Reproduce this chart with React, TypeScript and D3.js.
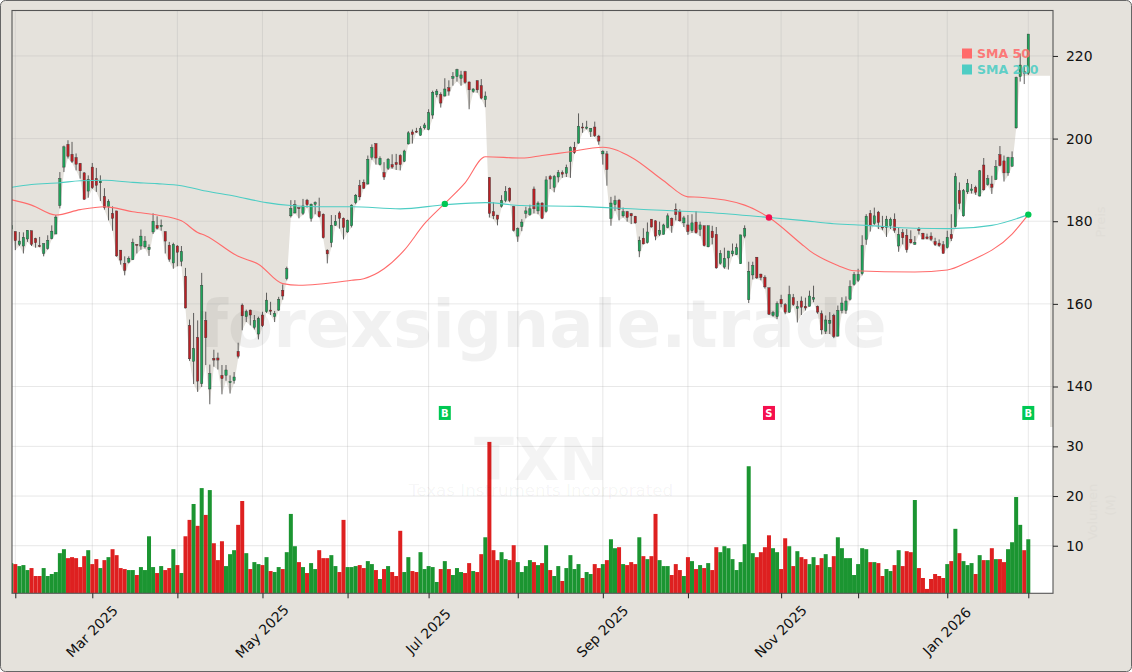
import { useEffect, useRef } from "react";
import * as d3 from "d3";

const WIDTH = 1132;
const HEIGHT = 672;
const BEIGE = "#e5e2dc";

// open, high, low, close per trading day
const ohlc: number[][] = [
  [178.1, 179.1, 178.0, 179.0], [177.5, 177.5, 173.0, 175.3], [174.4, 177.4, 174.0, 175.2], [174.0, 177.3, 172.2, 176.1],
  [175.7, 177.8, 175.0, 177.8], [177.7, 177.7, 174.0, 174.4], [175.8, 176.0, 173.6, 174.8], [174.1, 176.2, 173.7, 173.9],
  [172.2, 174.6, 171.5, 174.6], [173.4, 176.6, 173.1, 175.4], [175.8, 179.0, 175.6, 177.6], [176.9, 181.5, 176.9, 181.0],
  [183.8, 191.9, 183.1, 190.3], [193.1, 198.3, 191.9, 198.0], [198.6, 199.6, 195.2, 195.7], [196.2, 199.2, 194.1, 194.5],
  [195.4, 196.4, 192.3, 193.8], [194.0, 194.1, 190.3, 192.2], [191.7, 191.9, 185.2, 185.3], [187.3, 191.1, 185.7, 190.1],
  [193.1, 194.1, 187.8, 188.1], [190.3, 192.9, 187.1, 188.7], [189.3, 191.1, 184.9, 189.7], [186.0, 188.0, 182.8, 183.3],
  [183.5, 185.3, 180.2, 184.8], [181.9, 183.6, 177.7, 180.7], [182.5, 182.5, 171.4, 171.6], [173.0, 173.0, 169.5, 170.6],
  [169.8, 171.5, 166.9, 168.1], [170.1, 171.5, 169.8, 171.0], [170.7, 175.8, 170.6, 174.8], [174.4, 174.4, 172.2, 174.2],
  [174.0, 178.0, 173.1, 176.4], [173.8, 176.4, 173.4, 175.2], [173.1, 174.4, 171.6, 173.7], [177.4, 181.9, 176.9, 180.0],
  [179.0, 181.2, 178.0, 178.3], [178.7, 180.4, 177.7, 179.0], [177.5, 177.5, 172.2, 175.2], [174.2, 175.0, 170.2, 170.8],
  [169.9, 174.8, 168.5, 174.4], [174.0, 174.2, 169.1, 172.5], [170.3, 174.0, 169.1, 172.7], [166.7, 168.7, 158.9, 159.0],
  [154.8, 156.2, 146.2, 146.7], [146.1, 157.8, 140.6, 149.2], [151.9, 156.0, 138.7, 141.3], [140.7, 167.5, 139.9, 164.5],
  [156.0, 158.1, 145.2, 151.8], [139.4, 145.3, 135.7, 143.1], [146.8, 148.9, 144.8, 146.4], [146.9, 148.2, 144.1, 146.4],
  [142.7, 145.2, 138.1, 141.9], [142.7, 145.2, 141.4, 144.0], [140.9, 142.7, 138.3, 141.2], [141.4, 143.5, 140.7, 142.3],
  [148.5, 150.6, 146.8, 147.3], [159.7, 160.1, 153.6, 157.1], [156.9, 158.6, 155.6, 158.1], [158.5, 158.6, 154.8, 157.3],
  [154.3, 157.3, 153.8, 156.0], [152.7, 156.9, 151.4, 156.5], [157.3, 158.1, 154.4, 154.7], [158.1, 162.7, 157.8, 160.9],
  [158.5, 160.5, 157.3, 158.2], [156.9, 158.3, 155.6, 157.7], [158.5, 161.7, 158.3, 161.1], [163.3, 164.7, 161.0, 161.9],
  [166.1, 169.0, 165.7, 168.5], [181.3, 185.1, 180.9, 183.1], [182.0, 185.1, 181.9, 184.0], [183.3, 183.3, 180.7, 183.1],
  [181.9, 185.4, 181.5, 183.7], [185.1, 185.4, 183.3, 184.0], [180.7, 184.3, 179.9, 184.1], [184.1, 184.8, 181.7, 184.5],
  [182.3, 185.7, 180.9, 181.1], [181.7, 181.9, 175.8, 176.0], [173.0, 173.2, 169.8, 172.1], [174.8, 181.5, 173.7, 179.0],
  [179.0, 181.5, 178.9, 180.0], [182.0, 182.4, 178.2, 180.7], [180.7, 180.9, 175.6, 178.5], [177.4, 180.4, 177.2, 180.2],
  [178.9, 184.1, 178.5, 183.9], [184.5, 186.6, 184.1, 186.3], [188.6, 190.0, 185.1, 185.9], [189.4, 190.1, 187.8, 188.0],
  [189.0, 195.9, 188.9, 195.0], [195.5, 198.6, 194.9, 197.8], [198.8, 198.8, 193.7, 195.3], [193.7, 195.7, 193.5, 195.2],
  [191.8, 194.3, 190.0, 190.7], [192.8, 195.3, 192.4, 195.0], [193.7, 196.2, 192.7, 193.1], [194.2, 196.3, 192.4, 193.7],
  [195.9, 196.2, 192.3, 193.7], [194.5, 197.3, 194.3, 197.0], [198.7, 201.8, 198.6, 201.4], [201.6, 202.2, 198.8, 201.0],
  [201.8, 202.6, 201.4, 201.6], [200.8, 203.0, 200.7, 202.4], [202.6, 203.8, 202.2, 203.3], [202.2, 207.1, 202.0, 206.3],
  [205.7, 211.6, 204.8, 211.2], [210.6, 212.0, 210.0, 211.5], [210.7, 211.2, 207.5, 208.6], [210.3, 214.6, 210.2, 212.0],
  [212.3, 214.1, 210.4, 211.5], [214.6, 216.1, 212.8, 215.0], [215.0, 216.9, 213.8, 216.7], [214.6, 216.4, 212.8, 215.4],
  [216.2, 216.4, 213.3, 213.6], [213.7, 213.8, 207.1, 211.8], [211.4, 212.2, 211.1, 212.0], [214.0, 214.1, 211.1, 211.8],
  [212.8, 214.4, 209.5, 209.8], [209.4, 211.4, 207.6, 210.3], [190.6, 190.7, 180.9, 181.9], [182.3, 184.6, 180.5, 181.3],
  [181.5, 181.5, 179.0, 180.5], [183.6, 186.3, 183.3, 185.0], [185.0, 188.5, 184.6, 187.2], [188.0, 188.2, 184.6, 185.0],
  [183.5, 183.7, 177.5, 177.8], [176.4, 178.5, 175.0, 178.2], [178.7, 180.5, 177.6, 179.8], [181.9, 183.5, 180.7, 182.5],
  [181.6, 184.0, 181.3, 183.0], [187.8, 188.4, 181.9, 183.0], [182.5, 184.8, 181.7, 184.4], [184.4, 184.6, 180.5, 180.7],
  [182.4, 190.9, 182.1, 190.0], [190.8, 191.2, 187.8, 190.2], [188.2, 191.2, 187.0, 190.8], [190.7, 192.4, 189.4, 191.8],
  [191.8, 192.3, 190.5, 191.4], [191.6, 193.7, 190.7, 193.0], [194.4, 198.1, 190.5, 197.8], [197.9, 199.2, 196.3, 196.6],
  [198.9, 206.1, 198.8, 203.0], [202.8, 203.8, 201.4, 202.7], [202.5, 204.3, 202.2, 202.8], [201.7, 202.5, 200.4, 202.5],
  [202.8, 204.1, 200.4, 200.7], [200.6, 200.9, 198.5, 199.4], [196.3, 197.2, 193.7, 196.9], [196.3, 197.0, 188.6, 192.5],
  [180.7, 185.9, 178.9, 184.4], [184.0, 186.2, 182.5, 185.0], [185.1, 185.4, 180.2, 182.8], [181.3, 183.3, 180.9, 182.3],
  [182.3, 182.5, 179.9, 180.9], [181.8, 182.0, 179.3, 181.3], [181.2, 181.3, 179.4, 179.6], [172.8, 176.3, 171.3, 175.4],
  [175.9, 178.3, 174.4, 174.5], [174.8, 179.7, 174.6, 177.4], [180.5, 180.5, 178.5, 178.6], [180.1, 180.2, 175.4, 176.4],
  [176.8, 179.9, 176.4, 177.8], [176.8, 179.4, 176.8, 179.1], [178.5, 181.9, 178.3, 181.3], [180.7, 180.9, 177.2, 178.9],
  [182.9, 184.3, 180.2, 181.6], [182.3, 182.9, 179.9, 180.1], [179.6, 181.3, 178.6, 180.8], [179.1, 181.5, 176.7, 177.5],
  [177.7, 181.7, 177.2, 179.6], [179.8, 182.4, 177.0, 177.2], [178.0, 179.9, 176.4, 179.1], [178.9, 178.9, 173.9, 174.1],
  [173.8, 178.9, 173.7, 178.9], [177.6, 178.9, 174.4, 176.0], [176.8, 178.6, 168.5, 168.7], [169.8, 173.0, 169.5, 172.2],
  [168.9, 173.6, 168.5, 171.0], [171.1, 172.8, 168.3, 172.8], [172.1, 174.6, 171.5, 172.8], [171.9, 174.6, 171.8, 173.6],
  [169.7, 176.7, 169.7, 176.7], [176.4, 179.0, 175.9, 178.2], [161.0, 170.2, 160.2, 167.9], [167.0, 170.2, 165.9, 169.3],
  [171.3, 171.3, 166.0, 166.3], [167.2, 167.3, 165.7, 166.4], [166.4, 166.9, 163.7, 164.1], [163.9, 163.9, 157.3, 157.5],
  [157.2, 158.3, 156.9, 157.9], [156.9, 160.6, 156.3, 160.1], [161.1, 162.2, 159.2, 160.0], [159.8, 160.2, 157.5, 158.0],
  [158.0, 164.4, 157.8, 162.2], [161.5, 162.4, 159.5, 159.8], [158.9, 160.7, 155.5, 159.3], [160.7, 161.8, 157.3, 159.2],
  [159.4, 161.5, 158.4, 159.0], [159.4, 163.2, 159.4, 161.9], [161.1, 164.4, 160.4, 161.5], [159.4, 159.6, 157.6, 158.0],
  [157.6, 158.4, 152.6, 153.7], [153.4, 157.2, 152.7, 156.1], [155.3, 158.0, 152.7, 156.0], [157.2, 157.6, 151.7, 152.1],
  [152.2, 159.6, 152.1, 158.4], [158.4, 161.6, 157.7, 160.2], [158.4, 161.8, 157.6, 160.7], [161.1, 165.7, 160.8, 164.2],
  [164.7, 167.7, 164.4, 167.1], [165.7, 168.5, 165.3, 167.1], [167.3, 176.6, 166.9, 174.1], [175.6, 181.7, 174.3, 181.2],
  [181.9, 182.7, 177.5, 178.9], [179.4, 183.3, 179.1, 181.3], [182.2, 182.5, 178.1, 179.7], [178.6, 181.3, 177.8, 178.5],
  [178.5, 181.3, 176.2, 180.5], [178.9, 180.9, 178.1, 180.5], [180.5, 181.9, 177.2, 177.8], [174.0, 178.5, 172.6, 176.8],
  [177.2, 178.1, 174.4, 176.0], [176.6, 178.1, 172.4, 173.1], [175.6, 177.8, 174.6, 174.8], [174.4, 176.4, 174.3, 174.9],
  [178.1, 178.6, 176.8, 177.7], [177.1, 177.2, 175.6, 175.7], [176.2, 177.0, 175.6, 175.8], [176.4, 177.3, 175.2, 175.6],
  [175.1, 176.0, 174.0, 174.3], [174.7, 175.6, 173.8, 174.1], [174.3, 175.2, 172.2, 172.2], [173.6, 177.7, 173.4, 176.1],
  [176.8, 181.7, 175.2, 175.8], [178.7, 191.7, 178.5, 190.8], [187.4, 189.4, 182.9, 184.3], [181.3, 187.8, 181.1, 187.4],
  [187.1, 190.2, 186.6, 189.2], [187.4, 189.0, 186.7, 187.8], [188.2, 188.6, 186.4, 187.0], [186.1, 192.4, 186.0, 192.2],
  [193.6, 195.3, 187.4, 187.6], [188.9, 191.2, 188.6, 190.3], [189.0, 191.0, 186.6, 188.2], [190.1, 194.8, 190.0, 193.2],
  [196.1, 198.2, 193.3, 193.5], [194.6, 195.9, 189.6, 191.7], [191.7, 195.6, 191.0, 195.4], [193.3, 196.9, 193.2, 195.4],
  [202.6, 215.0, 202.4, 214.8], [215.0, 220.6, 213.8, 217.8], [216.2, 217.8, 213.2, 215.8], [215.8, 225.3, 215.4, 225.3],
];

// shares traded, millions
const volumes = [
  6.5, 6.3, 5.9, 6.1, 5.1, 5.5, 3.9, 3.9, 5.5, 3.9, 4.3, 4.7, 8.5, 9.3, 7.5, 7.7, 7.5, 5.7, 7.9, 9.1,
  6.3, 7.3, 5.5, 7.1, 7.7, 9.3, 8.1, 5.5, 5.3, 5.1, 5.1, 4.1, 5.7, 5.1, 11.9, 5.7, 4.5, 5.9, 5.1, 5.5,
  9.3, 6.1, 4.5, 11.9, 15.2, 18.4, 14.0, 21.6, 16.2, 21.2, 10.5, 7.1, 10.9, 5.9, 8.3, 9.1, 14.2, 19.0, 8.5, 5.3,
  6.7, 6.3, 6.1, 7.7, 4.9, 4.7, 5.7, 5.3, 8.7, 16.4, 9.9, 6.7, 5.7, 4.5, 6.5, 5.3, 9.1, 7.5, 7.5, 8.1,
  5.9, 4.7, 15.2, 5.7, 5.7, 5.9, 6.1, 5.5, 6.9, 6.3, 5.1, 3.3, 5.3, 5.9, 4.7, 3.9, 13.0, 4.7, 7.7, 4.9,
  4.7, 8.7, 5.3, 5.9, 5.7, 2.7, 5.3, 6.9, 5.3, 4.1, 5.5, 4.7, 4.5, 6.5, 4.9, 4.7, 8.3, 11.7, 30.9, 9.1,
  7.1, 8.7, 7.3, 7.1, 10.1, 6.7, 4.7, 5.9, 7.1, 6.7, 6.1, 6.5, 10.1, 5.1, 3.9, 5.9, 2.9, 5.5, 8.1, 5.3,
  6.3, 3.5, 4.7, 4.3, 6.3, 5.5, 6.3, 7.1, 11.3, 9.5, 9.7, 6.3, 6.1, 6.7, 6.3, 11.7, 7.9, 7.3, 7.9, 16.4,
  7.1, 5.9, 5.9, 4.1, 6.3, 5.1, 3.9, 7.7, 6.9, 5.3, 6.1, 5.5, 6.5, 5.1, 9.7, 8.7, 9.9, 9.5, 7.3, 5.1,
  6.7, 10.3, 26.0, 8.5, 7.7, 8.7, 9.7, 12.1, 9.5, 8.7, 5.3, 11.5, 9.9, 5.9, 8.9, 7.7, 7.3, 6.3, 7.7, 6.1,
  7.5, 8.3, 5.7, 7.9, 11.7, 9.5, 7.5, 7.5, 4.1, 6.3, 9.5, 9.3, 6.7, 6.7, 6.5, 3.9, 5.3, 4.9, 6.1, 9.1,
  5.9, 8.9, 8.7, 19.2, 5.5, 3.5, 1.3, 3.3, 4.3, 3.9, 3.5, 6.3, 6.9, 13.4, 8.5, 6.9, 6.1, 6.5, 4.3, 8.1,
  7.1, 7.1, 9.5, 7.3, 7.3, 6.7, 9.3, 10.7, 19.8, 14.2, 9.1, 11.3,
];
const greenVolumeOnRedCandle = [139];

// moving averages: [day index, value]
const sma50: [number, number][] = [
  [0, 185.2], [5, 183.9], [11, 181.5], [17, 182.8], [23, 183.5], [25, 183.3], [30, 182.3], [36, 181.5],
  [42, 180.1], [46, 177.3], [48, 176.5], [56, 171.5], [61, 169.6], [67, 164.9], [71, 164.5], [84, 165.7],
  [87, 166.1], [92, 168.5], [97, 173.0], [102, 179.4], [107, 184.3], [112, 189.3], [117, 195.6], [126, 195.3],
  [131, 195.9], [137, 196.7], [146, 197.9], [153, 195.5], [161, 189.8], [167, 185.9], [170, 185.8], [181, 183.9],
  [187, 180.9], [195, 174.5], [197, 172.9], [204, 169.3], [208, 168.0], [223, 167.7], [231, 168.2], [236, 170.1],
  [247, 176.9], [251, 181.6],
];
const sma200: [number, number][] = [
  [0, 188.2], [5, 188.9], [12, 189.3], [17, 189.8], [23, 189.9], [30, 189.4], [36, 189.1], [42, 188.6],
  [48, 187.3], [55, 186.1], [63, 184.5], [69, 183.8], [76, 183.5], [84, 183.5], [96, 183.0], [107, 184.0],
  [117, 184.5], [126, 183.8], [140, 183.6], [155, 182.9], [172, 182.1], [187, 180.9], [195, 180.2], [203, 179.4],
  [211, 179.0], [223, 178.3], [232, 178.2], [242, 179.0], [251, 181.6],
];

const signalDays = [107, 187, 251];
const signalTypes = ["B", "S", "B"];
const signalPrices = [184.2, 180.9, 181.6];
const signalLabelPrice = 133.6;

const priceTicks = [140, 160, 180, 200, 220];
const volumeTicks = [10, 20, 30];
const monthStarts = [1, 20, 41, 62, 83, 103, 125, 146, 167, 190, 209, 231, 251];
const monthLabels = ["", "Mar 2025", "", "May 2025", "", "Jul 2025", "", "Sep 2025", "", "Nov 2025", "", "Jan 2026", ""];

const App = () => {
  const ref = useRef<SVGSVGElement | null>(null);

  useEffect(() => {
    const svg = d3.select(ref.current);
    svg.selectAll("*").remove();

    const plot = { left: 12, right: 1053, top: 10.5, split: 427, bottom: 593.3 };
    const maskRight = 1050;

    const x = d3.scaleLinear().domain([0, 251]).range([11.25, 1028.3]);
    const yPrice = d3.scaleLinear().domain([130.2, 231]).range([plot.split, plot.top]);
    const yVol = d3.scaleLinear().domain([0.42, 33.9]).range([plot.bottom, plot.split]);

    svg
      .append("rect")
      .attr("x", 0.5)
      .attr("y", 0.5)
      .attr("width", WIDTH - 1)
      .attr("height", HEIGHT - 1)
      .attr("rx", 5)
      .attr("fill", BEIGE)
      .attr("stroke", "#666");

    const defs = svg.append("defs");
    defs
      .append("clipPath")
      .attr("id", "plot-clip")
      .append("rect")
      .attr("x", plot.left)
      .attr("y", plot.top)
      .attr("width", plot.right - plot.left)
      .attr("height", plot.bottom - plot.top);

    svg
      .append("rect")
      .attr("x", plot.left)
      .attr("y", plot.top)
      .attr("width", plot.right - plot.left)
      .attr("height", plot.bottom - plot.top)
      .attr("fill", "#fff");

    const g = svg.append("g").attr("clip-path", "url(#plot-clip)");

    // beige mask above the lows, last low carried to the right edge
    const endLow = 215.2;
    const maskPoints: [number, number][] = ohlc.map((d, i) => [x(i), i >= 249 ? endLow : d[2]]);
    maskPoints.push([maskRight, endLow]);
    const maskArea = d3
      .area<[number, number]>()
      .x((d) => d[0])
      .y0(plot.top)
      .y1((d) => yPrice(d[1]));
    g.append("path").attr("d", maskArea(maskPoints)).attr("fill", BEIGE);
    g.append("rect")
      .attr("x", maskRight)
      .attr("y", plot.top)
      .attr("width", plot.right - maskRight)
      .attr("height", plot.split - plot.top)
      .attr("fill", BEIGE);

    // grid
    const grid = g.append("g").attr("stroke", "#b0b0b0").attr("stroke-opacity", 0.32).attr("stroke-width", 0.9);
    grid
      .selectAll("line.v")
      .data(monthStarts)
      .join("line")
      .attr("class", "v")
      .attr("x1", (d) => x(d))
      .attr("x2", (d) => x(d))
      .attr("y1", plot.top)
      .attr("y2", plot.bottom);
    grid
      .selectAll("line.p")
      .data(priceTicks)
      .join("line")
      .attr("class", "p")
      .attr("x1", plot.left)
      .attr("x2", plot.right)
      .attr("y1", (d) => yPrice(d))
      .attr("y2", (d) => yPrice(d));
    grid
      .selectAll("line.q")
      .data(volumeTicks)
      .join("line")
      .attr("class", "q")
      .attr("x1", plot.left)
      .attr("x2", plot.right)
      .attr("y1", (d) => yVol(d))
      .attr("y2", (d) => yVol(d));

    // volume
    const isUp = (i: number) => ohlc[i][3] >= ohlc[i][0];
    g.append("g")
      .selectAll("rect")
      .data(volumes)
      .join("rect")
      .attr("x", (_, i) => x(i) - 2)
      .attr("y", (d) => yVol(d))
      .attr("width", 4)
      .attr("height", (d) => plot.bottom - yVol(d))
      .attr("fill", (_, i) => (isUp(i) || greenVolumeOnRedCandle.includes(i) ? "#0f8f26" : "#dc1414"))
      .attr("fill-opacity", 0.95);

    // candles
    const candles = g.append("g");
    candles
      .selectAll("line")
      .data(ohlc)
      .join("line")
      .attr("x1", (_, i) => x(i))
      .attr("x2", (_, i) => x(i))
      .attr("y1", (d) => yPrice(d[1]))
      .attr("y2", (d) => yPrice(d[2]))
      .attr("stroke", "#3a3a3a")
      .attr("stroke-width", 0.8);
    candles
      .selectAll("rect")
      .data(ohlc)
      .join("rect")
      .attr("x", (_, i) => x(i) - 1.15)
      .attr("y", (d) => yPrice(Math.max(d[0], d[3])))
      .attr("width", 2.3)
      .attr("height", (d) => Math.max(1, Math.abs(yPrice(d[0]) - yPrice(d[3]))))
      .attr("fill", (d) => (d[3] >= d[0] ? "#1fa35a" : "#bb2025"))
      .attr("stroke", "#333")
      .attr("stroke-width", 0.4);

    // moving averages
    const smaLine = d3
      .line<[number, number]>()
      .x((d) => x(d[0]))
      .y((d) => yPrice(d[1]))
      .curve(d3.curveMonotoneX);
    g.append("path").attr("d", smaLine(sma50)).attr("fill", "none").attr("stroke", "#ff6b6b").attr("stroke-width", 1.1);
    g.append("path").attr("d", smaLine(sma200)).attr("fill", "none").attr("stroke", "#4ecdc4").attr("stroke-width", 1.1);

    // buy and sell signals
    const signalColor = (t: string) => (t === "B" ? "#00c853" : "#f50f4e");
    signalDays.forEach((day, k) => {
      const c = signalColor(signalTypes[k]);
      g.append("circle").attr("cx", x(day)).attr("cy", yPrice(signalPrices[k])).attr("r", 3.2).attr("fill", c);
      g.append("rect")
        .attr("x", x(day) - 6)
        .attr("y", yPrice(signalLabelPrice) - 7)
        .attr("width", 12)
        .attr("height", 14)
        .attr("fill", c);
      g.append("text")
        .attr("x", x(day))
        .attr("y", yPrice(signalLabelPrice))
        .attr("dy", "0.36em")
        .attr("text-anchor", "middle")
        .attr("font-family", "DejaVu Sans")
        .attr("font-size", 10)
        .attr("font-weight", "bold")
        .attr("fill", "#fff")
        .text(signalTypes[k]);
    });

    // watermarks
    const mark = (text: string, mx: number, my: number, size: number, bold: boolean, opacity: number) =>
      svg
        .append("text")
        .attr("x", mx)
        .attr("y", my)
        .attr("dy", "0.36em")
        .attr("text-anchor", "middle")
        .attr("font-family", "DejaVu Sans")
        .attr("font-size", size)
        .attr("font-weight", bold ? "bold" : "normal")
        .attr("fill", "#000")
        .attr("fill-opacity", opacity)
        .text(text);
    mark("forexsignale.trade", 543, 323, 66, true, 0.055);
    mark("TXN", 541, 459, 58.5, true, 0.045);
    mark("Texas Instruments Incorporated", 541, 490, 16.7, false, 0.05);

    // frame
    svg
      .append("rect")
      .attr("x", plot.left)
      .attr("y", plot.top)
      .attr("width", plot.right - plot.left)
      .attr("height", plot.bottom - plot.top)
      .attr("fill", "none")
      .attr("stroke", "#555")
      .attr("stroke-width", 1.1);

    // axes
    const styleAxis = (sel: d3.Selection<SVGGElement, unknown, null, undefined>) => {
      sel.select(".domain").remove();
      sel.selectAll(".tick line").attr("stroke", "#222");
      sel.selectAll("text").attr("font-family", "DejaVu Sans").attr("font-size", 13.9).attr("fill", "#111");
    };

    svg
      .append("g")
      .attr("transform", `translate(${plot.right},0)`)
      .call(d3.axisRight(yPrice).tickValues(priceTicks).tickSize(5).tickPadding(8))
      .call(styleAxis as any);
    svg
      .append("g")
      .attr("transform", `translate(${plot.right},0)`)
      .call(d3.axisRight(yVol).tickValues(volumeTicks).tickSize(5).tickPadding(8))
      .call(styleAxis as any);

    const xAxis = svg
      .append("g")
      .attr("transform", `translate(0,${plot.bottom})`)
      .call(
        d3
          .axisBottom(x)
          .tickValues(monthStarts)
          .tickSize(5)
          .tickFormat((_, i) => monthLabels[i])
      );
    styleAxis(xAxis as any);
    xAxis
      .selectAll("text")
      .attr("x", 0)
      .attr("y", 0)
      .attr("dy", "0.36em")
      .attr("text-anchor", "middle")
      .attr("transform", "translate(-1,38) rotate(-45)");

    // legend
    const legend = [
      { label: "SMA 50", color: "#ff6b6b", ly: 53.5 },
      { label: "SMA 200", color: "#4ecdc4", ly: 69.5 },
    ];
    legend.forEach((l) => {
      svg
        .append("rect")
        .attr("x", 962)
        .attr("y", l.ly - 5)
        .attr("width", 10)
        .attr("height", 10)
        .attr("fill", l.color);
      svg
        .append("text")
        .attr("x", 977)
        .attr("y", l.ly)
        .attr("dy", "0.36em")
        .attr("font-family", "DejaVu Sans")
        .attr("font-size", 12.5)
        .attr("font-weight", "bold")
        .attr("fill", l.color)
        .attr("fill-opacity", 0.9)
        .text(l.label);
    });

    // barely visible axis titles on the right
    const faint = (text: string, fx: number, fy: number) =>
      svg
        .append("text")
        .attr("transform", `translate(${fx},${fy}) rotate(-90)`)
        .attr("text-anchor", "middle")
        .attr("dy", "0.36em")
        .attr("font-family", "DejaVu Sans")
        .attr("font-size", 13)
        .attr("fill", "#e0ddd7")
        .text(text);
    faint("Preis", 1100, 222);
    faint("Volumen", 1092, 512);
    faint("(M)", 1110, 505);
  }, []);

  return <svg ref={ref} width={WIDTH} height={HEIGHT} style={{ position: "absolute", left: 0, top: 0, display: "block" }} />;
};

export default App;
